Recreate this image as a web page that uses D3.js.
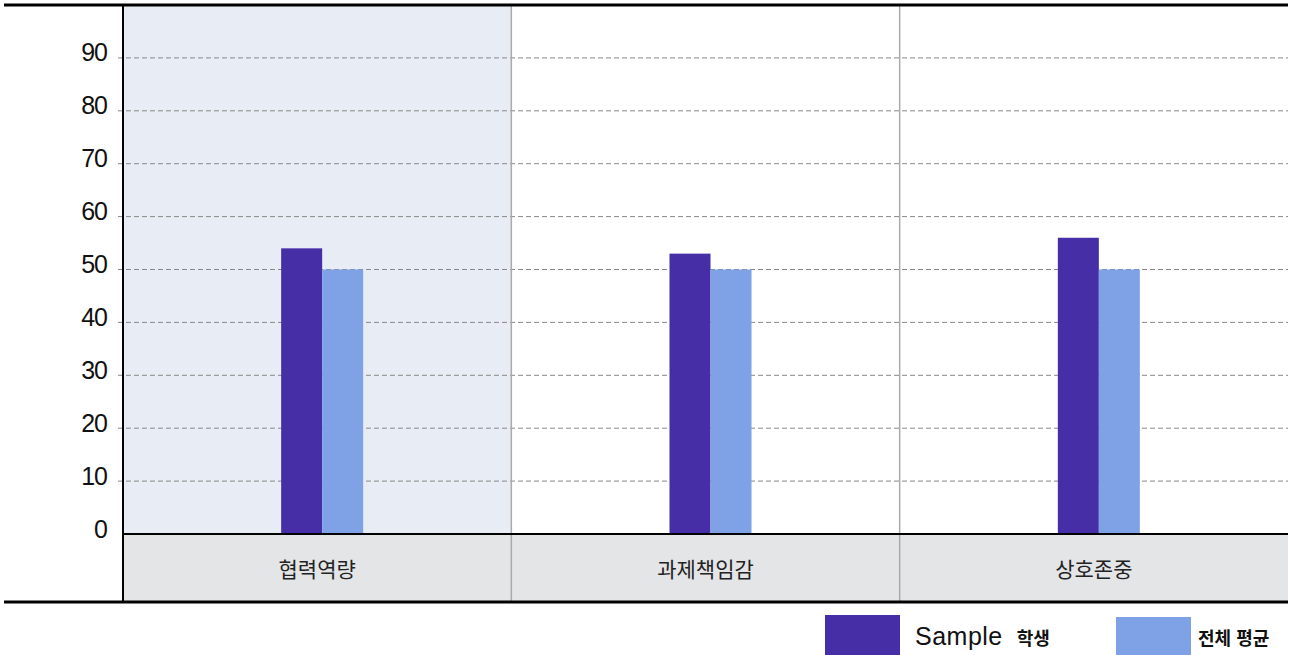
<!DOCTYPE html>
<html lang="ko">
<head>
<meta charset="UTF-8">
<title>Bar chart</title>
<script src="https://cdn.jsdelivr.net/npm/d3@7"></script>
<style>
    body { margin: 0; background: #fff; }
    .tick text { font-family: "Liberation Sans", Arial, sans-serif; }
    .grid line { stroke: #888; stroke-dasharray: 5 3; }
</style>
</head>
<body>
<svg id="chart"></svg>
<script>
    // data
    var categories = ["협력역량", "과제책임감", "상호존중"];
    var sampleValues = [54, 53, 56];
    var averageValues = [50, 50, 50];
    var yTicks = [0, 10, 20, 30, 40, 50, 60, 70, 80, 90];
    var seriesNames = ["Sample", "전체 평균"];

    var width = 1291, height = 655;
    var plotLeft = 123, plotRight = 1288, plotTop = 5, zeroY = 534, plotBottom = 602;

    var svg = d3.select("#chart").attr("width", width).attr("height", height);

    var x = d3.scaleBand().domain(categories).range([plotLeft, plotRight]);
    var y = d3.scaleLinear().domain([0, 100]).range([zeroY, plotTop]);

    // highlighted first category
    svg.append("rect")
        .attr("x", x(categories[0])).attr("y", plotTop)
        .attr("width", x.bandwidth()).attr("height", zeroY - plotTop)
        .attr("fill", "#e8edf5");

    // category strip
    svg.append("rect")
        .attr("x", plotLeft).attr("y", zeroY)
        .attr("width", plotRight - plotLeft).attr("height", plotBottom - zeroY)
        .attr("fill", "#e4e5e7");

    // grid
    svg.append("g").attr("class", "grid")
        .selectAll("line").data(yTicks.filter(function (d) { return d > 0; }))
        .enter().append("line")
        .attr("x1", plotLeft - 5).attr("x2", plotRight)
        .attr("y1", function (d) { return y(d); })
        .attr("y2", function (d) { return y(d); });

    // band separators
    svg.selectAll(".sep").data(categories.slice(1))
        .enter().append("line")
        .attr("x1", function (d) { return x(d); })
        .attr("x2", function (d) { return x(d); })
        .attr("y1", plotTop).attr("y2", plotBottom)
        .attr("stroke", "#aaaaaa").attr("stroke-width", 1.5);

    // bars
    var barW = 41;
    var colors = ["#452ea6", "#7fa1e5"];
    [sampleValues, averageValues].forEach(function (vals, i) {
        svg.selectAll(".bar" + i).data(vals)
            .enter().append("rect")
            .attr("x", function (d, j) {
                var c = x(categories[j]) + x.bandwidth() / 2 + 5;
                return i === 0 ? c - barW : c;
            })
            .attr("y", function (d) { return y(d); })
            .attr("width", barW)
            .attr("height", function (d) { return zeroY - y(d); })
            .attr("fill", colors[i]);
    });

    // y axis labels
    var yAxis = d3.axisLeft(y).tickValues(yTicks).tickSize(0).tickPadding(16);
    var ya = svg.append("g").attr("transform", "translate(" + plotLeft + ",0)").call(yAxis);
    ya.select(".domain").remove();
    ya.selectAll("text").attr("font-size", 25).attr("fill", "#111").attr("dy", "0.12em")
        .attr("letter-spacing", "-1");

    // category labels
    svg.selectAll(".cat").data(categories)
        .enter().append("text")
        .attr("x", function (d) { return x(d) + x.bandwidth() / 2; })
        .attr("y", 577)
        .attr("text-anchor", "middle")
        .attr("font-family", "'Noto Sans CJK KR', sans-serif")
        .attr("font-size", 21)
        .attr("fill", "#222")
        .text(function (d) { return d; });

    // frame lines
    svg.append("line").attr("x1", 4).attr("x2", plotRight).attr("y1", plotTop).attr("y2", plotTop)
        .attr("stroke", "#000").attr("stroke-width", 3);
    svg.append("line").attr("x1", 4).attr("x2", plotRight).attr("y1", plotBottom).attr("y2", plotBottom)
        .attr("stroke", "#000").attr("stroke-width", 3);
    svg.append("line").attr("x1", plotLeft).attr("x2", plotRight).attr("y1", zeroY).attr("y2", zeroY)
        .attr("stroke", "#000").attr("stroke-width", 2);
    svg.append("line").attr("x1", plotLeft).attr("x2", plotLeft).attr("y1", plotTop).attr("y2", plotBottom)
        .attr("stroke", "#000").attr("stroke-width", 2);

    // legend
    var legend = svg.append("g");
    legend.append("rect").attr("x", 825).attr("y", 615).attr("width", 75).attr("height", 40).attr("fill", colors[0]);
    var t1 = legend.append("text").attr("x", 915).attr("y", 645)
        .attr("font-family", "'Liberation Sans', Arial, sans-serif").attr("fill", "#111");
    t1.append("tspan").attr("font-size", 25).attr("letter-spacing", "0.5").text(seriesNames[0]);
    t1.append("tspan").attr("font-size", 18).attr("font-weight", "bold").attr("letter-spacing", "0")
        .attr("font-family", "'Noto Sans CJK KR', sans-serif").attr("dx", 14).text("학생");
    legend.append("rect").attr("x", 1116).attr("y", 617).attr("width", 75).attr("height", 38).attr("fill", colors[1]);
    legend.append("text").attr("x", 1198).attr("y", 645)
        .attr("font-family", "'Noto Sans CJK KR', sans-serif").attr("font-size", 18)
        .attr("font-weight", "bold").attr("fill", "#111").text(seriesNames[1]);
</script>
</body>
</html>
